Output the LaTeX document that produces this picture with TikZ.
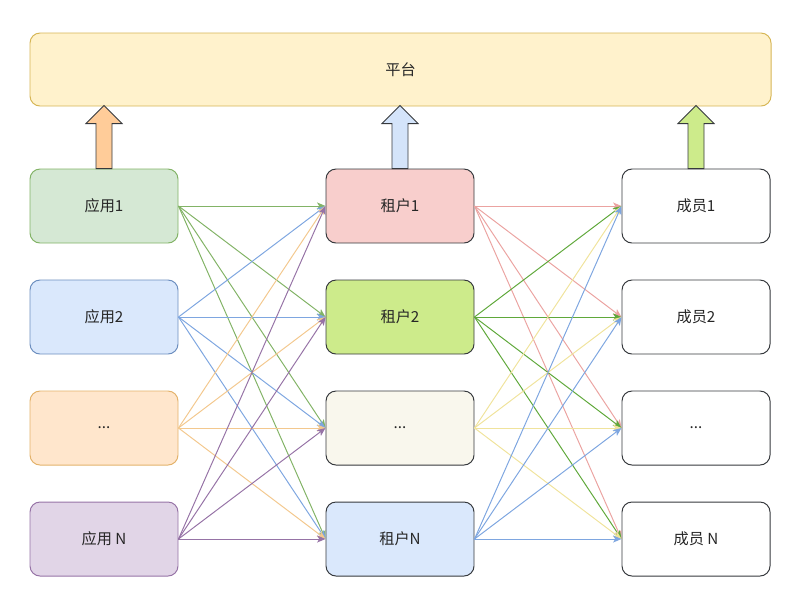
\documentclass[tikz,border=0pt]{standalone}
\usepackage{fontspec}
\setmainfont{Noto Sans CJK SC}
\usepackage{xcolor}
\usetikzlibrary{positioning,arrows.meta}

\definecolor{platFill}{HTML}{FFF2CC}
\definecolor{platLine}{HTML}{D6B656}
\definecolor{appFillA}{HTML}{D5E8D4}
\definecolor{appLineA}{HTML}{82B366}
\definecolor{appFillB}{HTML}{DAE8FC}
\definecolor{appLineB}{HTML}{6C8EBF}
\definecolor{appFillC}{HTML}{FFE6CC}
\definecolor{appLineC}{HTML}{E3B26A}
\definecolor{appFillN}{HTML}{E1D5E7}
\definecolor{appLineN}{HTML}{9673A6}
\definecolor{tenFillA}{HTML}{F8CECC}
\definecolor{tenFillB}{HTML}{CDEB8B}
\definecolor{tenFillC}{HTML}{F9F7ED}
\definecolor{tenFillN}{HTML}{DAE8FC}
\definecolor{darkLine}{HTML}{36393D}
\definecolor{linkPink}{HTML}{EBA3A1}
\definecolor{linkGreen}{HTML}{5FA83A}
\definecolor{linkYellow}{HTML}{F0E39C}
\definecolor{linkOrange}{HTML}{F3C88E}
\definecolor{linkBlue}{HTML}{7EA6E0}
\definecolor{upOrange}{HTML}{FFCC99}
\definecolor{upBlue}{HTML}{D4E4FA}
\definecolor{upGreen}{HTML}{CDEB8B}

\begin{document}
\begin{tikzpicture}[every node/.style={on grid,node distance=2.775cm and 7.4cm},
    box/.style={draw,rounded corners=0.25cm,minimum width=3.7cm,minimum height=1.85cm,
      line width=0.7pt,text=black!85,font=\fontsize{10.8}{13}\selectfont},
    link/.style={-{Stealth[length=6pt,width=5pt,inset=1.5pt]},line width=0.7pt},
    fatup/.style={draw=darkLine,line width=0.7pt}]
  \useasboundingbox (0,0) rectangle (20,-15);
  \node[box,fill=platFill,draw=platLine,minimum width=18.525cm,minimum height=1.825cm] (P) at (10.0125,-1.7375) {平台};
  \node[box,fill=appFillA,draw=appLineA] (A1) at (2.6,-5.15) {应用1};
  \node[box,fill=appFillB,draw=appLineB,below=of A1] (A2) {应用2};
  \node[box,fill=appFillC,draw=appLineC,below=of A2] (A3) {...};
  \node[box,fill=appFillN,draw=appLineN,below=of A3] (AN) {应用 N};
  \node[box,fill=tenFillA,draw=darkLine,right=of A1] (T1) {租户1};
  \node[box,fill=tenFillB,draw=darkLine,right=of A2] (T2) {租户2};
  \node[box,fill=tenFillC,draw=darkLine,right=of A3] (T3) {...};
  \node[box,fill=tenFillN,draw=darkLine,right=of AN] (TN) {租户N};
  \node[box,fill=white,draw=darkLine,right=of T1] (M1) {成员1};
  \node[box,fill=white,draw=darkLine,right=of T2] (M2) {成员2};
  \node[box,fill=white,draw=darkLine,right=of T3] (M3) {...};
  \node[box,fill=white,draw=darkLine,right=of TN] (MN) {成员 N};
  % apps to tenants
  \foreach \s/\c in {A1/appLineA,A2/linkBlue,A3/linkOrange,AN/appLineN}
    \foreach \t in {T1,T2,T3,TN}
      \draw[link,draw=\c] (\s.east) -- (\t.west);
  % tenants to members
  \foreach \s/\c in {T1/linkPink,T2/linkGreen,T3/linkYellow,TN/linkBlue}
    \foreach \t in {M1,M2,M3,MN}
      \draw[link,draw=\c] (\s.east) -- (\t.west);
  % fat arrows up to the platform
  \foreach \n/\c in {A1/upOrange,T1/upBlue,M1/upGreen}
    \draw[fatup,fill=\c] ([xshift=-0.2cm]\n.north) -- ++(0,1.125) -- ++(-0.25,0)
      -- ++(0.45,0.45) -- ++(0.45,-0.45) -- ++(-0.25,0) -- ++(0,-1.125) -- cycle;
\end{tikzpicture}
\end{document}
